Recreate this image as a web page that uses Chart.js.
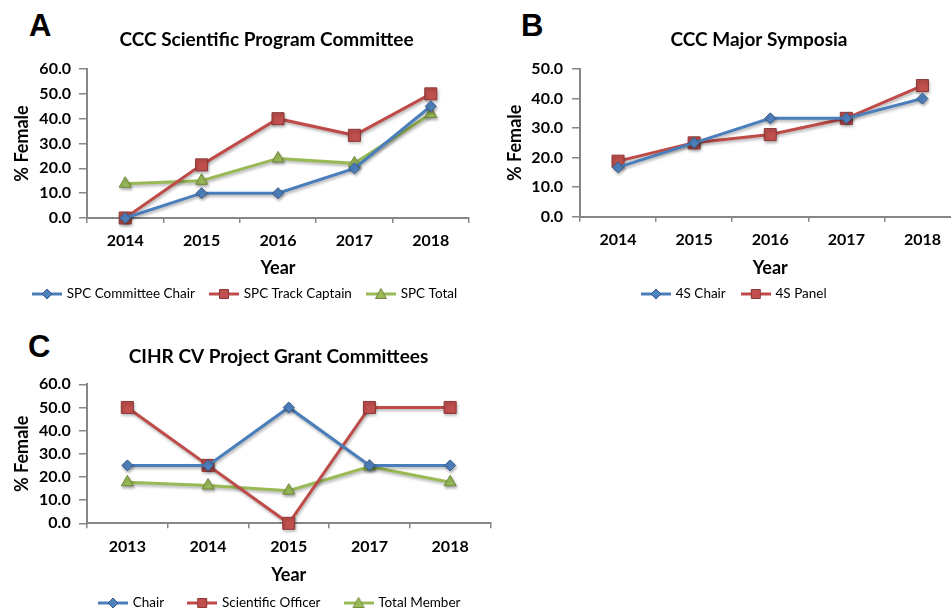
<!DOCTYPE html>
<html>
<head>
<meta charset="utf-8">
<script src="https://cdn.jsdelivr.net/npm/chart.js@4.4.1/dist/chart.umd.min.js"></script>
<style>
  body { margin: 0; width: 951px; height: 610px; overflow: hidden; position: relative; background: #fff; }
  canvas { position: absolute; }
  .letter { position: absolute; font: bold 31px "Liberation Sans", Arial, sans-serif; line-height: 31px; color: #000; }
</style>
</head>
<body>
<div class="letter" style="left:29px;top:10px">A</div>
<div class="letter" style="left:521px;top:10px">B</div>
<div class="letter" style="left:28px;top:331px">C</div>
<canvas id="chartA" width="480" height="330" style="left:0;top:0"></canvas>
<canvas id="chartB" width="490" height="330" style="left:480px;top:0"></canvas>
<canvas id="chartC" width="500" height="334" style="left:0;top:320px"></canvas>
<script>
// Panel A - CCC Scientific Program Committee
const yearsA = ['2014', '2015', '2016', '2017', '2018'];
const spcChair = [0, 10, 10, 20, 45];
const spcTrackCaptain = [0, 21.4, 40, 33.3, 50];
const spcTotal = [13.8, 15.0, 24.0, 22.0, 41.9];

// Panel B - CCC Major Symposia
const yearsB = ['2014', '2015', '2016', '2017', '2018'];
const symChair = [16.7, 25, 33.3, 33.3, 40];
const symPanel = [18.8, 25, 27.8, 33.3, 44.4];

// Panel C - CIHR CV Project Grant Committees
const yearsC = ['2013', '2014', '2015', '2017', '2018'];
const cihrChair = [25, 25, 50, 25, 25];
const cihrOfficer = [50, 25, 0, 50, 50];
const cihrTotal = [17.7, 16.3, 14.1, 24.5, 17.7];

Chart.defaults.font.family = 'Lato';
Chart.defaults.color = '#000';

const AXIS = '#868686';
const styles = {
    blue: { line: '#4A7EBB', fill: '#4F81BD', border: '#385D8A', shape: 'rectRot', r: 5.5 },
    red: { line: '#BE4B48', fill: '#C0504D', border: '#8C3836', shape: 'rect', r: 8.5 },
    green: { line: '#98B954', fill: '#9BBB59', border: '#71893F', shape: 'triangle', r: 7 }
};

// little line+marker picture used as the legend symbol (Excel style)
function legendIcon(s) {
    const c = document.createElement('canvas');
    c.width = 30; c.height = 14;
    const g = c.getContext('2d');
    g.strokeStyle = s.line; g.lineWidth = 3;
    g.beginPath(); g.moveTo(0, 7); g.lineTo(30, 7); g.stroke();
    g.fillStyle = s.fill; g.strokeStyle = s.border; g.lineWidth = 1;
    g.beginPath();
    if (s.shape === 'rectRot') { g.moveTo(15, 2); g.lineTo(20, 7); g.lineTo(15, 12); g.lineTo(10, 7); }
    else if (s.shape === 'rect') { g.rect(10.5, 2.5, 9, 9); }
    else { g.moveTo(15, 1.5); g.lineTo(20.5, 11.5); g.lineTo(9.5, 11.5); }
    g.closePath(); g.fill(); g.stroke();
    return c;
}

function series(label, data, s) {
    return {
        label, data,
        borderColor: s.line, borderWidth: 3,
        pointStyle: s.shape, pointRadius: s.r, pointHoverRadius: s.r,
        pointBackgroundColor: s.fill, pointBorderColor: s.border, pointBorderWidth: 1,
        tension: 0, clip: false,
        legendIcon: legendIcon(s)
    };
}

// move title / legend to where Excel put them
const placeBoxes = {
    id: 'placeBoxes',
    afterLayout(chart, args, opts) {
        const t = chart.titleBlock;
        if (t && opts.titleX !== undefined) {
            const dx = opts.titleX - (t.left + t.right) / 2;
            t.left += dx; t.right += dx;
        }
        const lg = chart.legend;
        if (lg && opts.legendX !== undefined) {
            const lab = lg.options.labels;
            const start = (lg.left + lab.padding + lg.right - lg.lineWidths[0]) / 2;
            const dx = opts.legendX + 2 - start;
            const dy = opts.legendY - (lg.top + lab.padding + lab.font.size / 2);
            lg.left += dx; lg.right += dx; lg.top += dy; lg.bottom += dy;
        }
    }
};

const shadow = {
    id: 'shadow',
    beforeDatasetsDraw(chart) {
        const c = chart.ctx;
        c.save();
        c.shadowColor = 'rgba(0,0,0,0.3)';
        c.shadowBlur = 3; c.shadowOffsetX = 1; c.shadowOffsetY = 2;
    },
    afterDatasetsDraw(chart) { chart.ctx.restore(); }
};

function makeChart(id, labels, datasets, p) {
    return new Chart(document.getElementById(id), {
        type: 'line',
        data: { labels, datasets },
        plugins: [placeBoxes, shadow],
        options: {
            responsive: false,
            animation: false,
            layout: { padding: { left: 0, right: p.padR, top: 0, bottom: p.padB } },
            scales: {
                x: {
                    offset: true,
                    grid: { display: true, offset: true, drawOnChartArea: false, drawTicks: true, tickLength: 5, color: AXIS, lineWidth: 1.5 },
                    border: { color: AXIS, width: 2 },
                    ticks: { font: { size: 16, weight: 'bold' }, padding: p.xPad, color: '#000' },
                    title: { display: true, text: 'Year', font: { size: 18, weight: 'bold' }, padding: 0 },
                    afterFit(s) { s.height = p.xH; }
                },
                y: {
                    min: 0, max: p.yMax,
                    grid: { display: true, drawOnChartArea: false, drawTicks: true, tickLength: 8, color: AXIS, lineWidth: 1.5 },
                    border: { color: AXIS, width: 2 },
                    ticks: { stepSize: 10, font: { size: 16, weight: 'bold' }, padding: p.yPad, color: '#000', callback: v => v.toFixed(1) },
                    title: { display: true, text: '% Female', font: { size: 18, weight: 'bold' }, padding: { top: p.yTitlePad, bottom: 0 } },
                    afterFit(s) { s.width = p.yW; }
                }
            },
            plugins: {
                title: {
                    display: true, text: p.title,
                    font: { size: 19, weight: 'bold' },
                    padding: { top: p.tTop, bottom: p.tBottom }
                },
                legend: {
                    position: 'bottom',
                    labels: {
                        usePointStyle: true, pointStyleWidth: 26, padding: p.legPad,
                        font: { size: 13.5 }, color: '#000',
                        generateLabels(chart) {
                            return Chart.defaults.plugins.legend.labels.generateLabels(chart)
                                .map((item, i) => ({ ...item, pointStyle: chart.data.datasets[i].legendIcon }));
                        }
                    }
                },
                tooltip: { enabled: false },
                placeBoxes: { titleX: p.titleX, legendX: p.legendX, legendY: p.legendY }
            }
        }
    });
}

makeChart('chartA', yearsA, [
    series('SPC Committee Chair', spcChair, styles.blue),
    series('SPC Track Captain', spcTrackCaptain, styles.red),
    series('SPC Total', spcTotal, styles.green)
], {
    title: 'CCC Scientific Program Committee', yMax: 60,
    padR: 11, padB: 11.7, yW: 87, yPad: 8, yTitlePad: 11.2, xH: 60.8, xPad: 8.4,
    tTop: 28.6, tBottom: 17.6, legPad: 16, titleX: 266.5, legendX: 32, legendY: 294
});

makeChart('chartB', yearsB, [
    series('4S Chair', symChair, styles.blue),
    series('4S Panel', symPanel, styles.red)
], {
    title: 'CCC Major Symposia', yMax: 50,
    padR: 9, padB: 11, yW: 100, yPad: 9, yTitlePad: 24.2, xH: 61.8, xPad: 8.7,
    tTop: 28.1, tBottom: 18.1, legPad: 17, titleX: 279, legendX: 161, legendY: 294
});

makeChart('chartC', yearsC, [
    series('Chair', cihrChair, styles.blue),
    series('Scientific Officer', cihrOfficer, styles.red),
    series('Total Member', cihrTotal, styles.green)
], {
    title: 'CIHR CV Project Grant Committees', yMax: 60,
    padR: 5.5, padB: 19.7, yW: 87, yPad: 8.3, yTitlePad: 11.2, xH: 62.5, xPad: 8.8,
    tTop: 25.3, tBottom: 16.2, legPad: 25, titleX: 278.5, legendX: 98, legendY: 283
});
</script>
</body>
</html>
